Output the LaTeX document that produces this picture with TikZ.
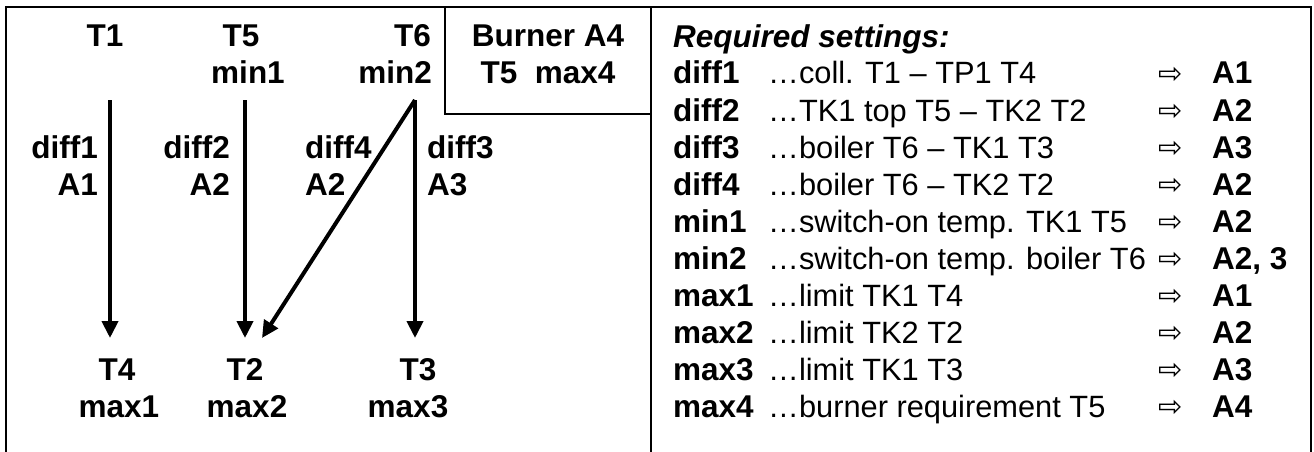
\documentclass[tikz,border=0pt]{standalone}
\usepackage{fontspec}
\setmainfont{Liberation Sans}
\newfontfamily\symfont{DejaVu Sans}
\usetikzlibrary{arrows.meta}
\begin{document}
\begin{tikzpicture}[x=1pt,y=-1pt,
  lbl/.style={font=\bfseries\fontsize{31.5}{37}\selectfont, inner sep=0pt},
  dsc/.style={font=\fontsize{30.8}{37}\selectfont, inner sep=0pt, anchor=base west},
  sym/.style={font=\symfont\fontsize{29}{32}\selectfont, inner sep=0pt, anchor=base},
  frame/.style={line width=2.5pt, line cap=rect},
  thin/.style={line width=1.5pt},
  flow/.style={line width=4pt, -{Triangle[width=16pt,length=17pt]}, shorten >=0pt}]
\useasboundingbox (0,0) rectangle (1314,452);
% frame
\draw[frame] (6,452) -- (6,7) -- (1311,7) -- (1311,452);
\draw[frame] (651,7) -- (651,452);
\draw[thin] (445,7) -- (445,114) -- (651,114);
% burner box
\node[lbl,anchor=base] (burner) at (548,47) {Burner A4};
\node[lbl,anchor=base] (burner2) at (548,84) {T5\ \ max4};
% left labels
\node[lbl,anchor=base] (t1) at (105,47) {T1};
\node[lbl,anchor=base] (t5) at (241,47) {T5};
\node[lbl,anchor=base] (mn1) at (248,84) {min1};
\node[lbl,anchor=base east] (t6) at (431,47) {T6};
\node[lbl,anchor=base east] (mn2) at (432,84) {min2};
\node[lbl,anchor=base east] (d1) at (98,158) {diff1};
\node[lbl,anchor=base east] (a1) at (98,195) {A1};
\node[lbl,anchor=base east] (d2) at (230,158) {diff2};
\node[lbl,anchor=base east] (a2) at (230,195) {A2};
\node[lbl,anchor=base west] (d4) at (305,158) {diff4};
\node[lbl,anchor=base west] (a2b) at (305,195) {A2};
\node[lbl,anchor=base west] (d3) at (427,158) {diff3};
\node[lbl,anchor=base west] (a3) at (427,195) {A3};
\node[lbl,anchor=base] (t4) at (117,380) {T4};
\node[lbl,anchor=base] (mx1) at (119,417) {max1};
\node[lbl,anchor=base] (t2) at (245,380) {T2};
\node[lbl,anchor=base] (mx2) at (247,417) {max2};
\node[lbl,anchor=base] (t3) at (418,380) {T3};
\node[lbl,anchor=base] (mx3) at (408,417) {max3};
% arrow endpoints
\coordinate (s1) at (110,100); \coordinate (e1) at (110,338);
\coordinate (s2) at (245,100); \coordinate (e2) at (245,338);
\coordinate (s3) at (415,100); \coordinate (e3) at (415,338);
\coordinate (e4) at (262,338);
\draw[flow] (s1) -- (e1);
\draw[flow] (s2) -- (e2);
\draw[flow] (s3) -- (e3);
\draw[flow] (s3) -- (e4);
% right panel
\node[lbl,anchor=base west,font=\bfseries\itshape\fontsize{31.5}{37}\selectfont] (req) at (673,48) {Required settings:};
\foreach \nm/\ds/\ac [count=\i] in {
  diff1/{…coll. T1 – TP1 T4}/A1,
  diff2/{…TK1 top T5 – TK2 T2}/A2,
  diff3/{…boiler T6 – TK1 T3}/A3,
  diff4/{…boiler T6 – TK2 T2}/A2,
  min1/{…switch-on temp. TK1 T5}/A2,
  min2/{…switch-on temp. boiler T6}/{A2, 3},
  max1/{…limit TK1 T4}/A1,
  max2/{…limit TK2 T2}/A2,
  max3/{…limit TK1 T3}/A3,
  max4/{…burner requirement T5}/A4}{
  \pgfmathsetmacro\yb{47+37*\i}
  \node[lbl,anchor=base west] (rn\i) at (673,\yb) {\nm};
  \node[dsc] (rd\i) at (768,\yb) {\ds};
  \node[sym] (ra\i) at (1171,\yb-1) {⇨};
  \node[lbl,anchor=base west] (rv\i) at (1212,\yb) {\ac};
}
\end{tikzpicture}
\end{document}
